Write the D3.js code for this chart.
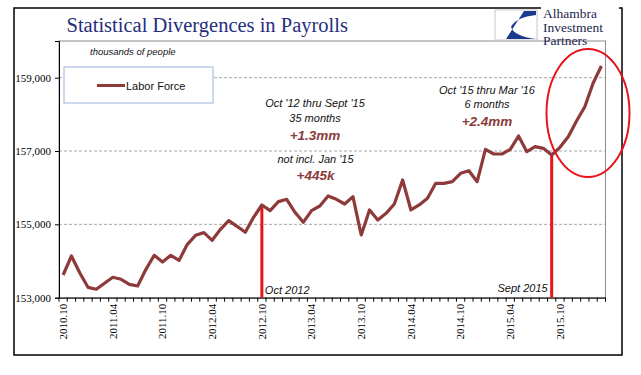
<!DOCTYPE html>
<html>
<head>
<meta charset="utf-8">
<script src="https://cdn.jsdelivr.net/npm/d3@7"></script>
<style>
  body { margin: 0; background: #fff; }
  svg { display: block; }
  .ann { font-family: "Liberation Sans", Arial, sans-serif; font-style: italic; fill: #111; }
  .big { font-family: "Liberation Sans", Arial, sans-serif; font-style: italic; font-weight: bold; fill: #8b3a3a; }
</style>
</head>
<body>
<div id="chart"></div>
<script>
// monthly labor force, thousands, Oct 2010 - Mar 2016
var startYear = 2010, startMonth = 10;
var laborForce = [
    153619, 154137, 153682, 153283, 153229, 153392, 153556, 153502, 153365, 153319,
    153774, 154156, 153974, 154156, 154019, 154456, 154701, 154774, 154565, 154865,
    155100, 154947, 154783, 155192, 155528, 155374, 155619, 155683, 155329, 155056,
    155374, 155501, 155774, 155683, 155555, 155755, 154710, 155392, 155119, 155301,
    155555, 156210, 155392, 155528, 155710, 156119, 156119, 156164, 156392, 156464,
    156164, 157047, 156919, 156919, 157047, 157410, 156982, 157119, 157073, 156892,
    157101, 157391, 157819, 158208, 158847, 159319
];
var yTicks = [153000, 155000, 157000, 159000];
var markers = [
    { month: "2012.10", label: "Oct 2012" },
    { month: "2015.09", label: "Sept 2015" }
];

var months = [];
for (var i = 0; i < laborForce.length; i++) {
    var m = startMonth - 1 + i;
    var yy = startYear + Math.floor(m / 12), mm = (m % 12) + 1;
    months.push(yy + "." + (mm < 10 ? "0" + mm : mm));
}

var width = 641, height = 375;
var plotL = 59, plotR = 605.5, plotT = 41, plotB = 297.7;

var svg = d3.select("#chart").append("svg")
    .attr("width", width)
    .attr("height", height);

var x = d3.scaleBand().domain(months).range([plotL, plotR]);
var y = d3.scaleLinear().domain([153000, 160000]).range([plotB, plotT]);

// outer frame
svg.append("rect")
    .attr("x", 14).attr("y", 8)
    .attr("width", 608).attr("height", 347)
    .attr("fill", "#fff").attr("stroke", "#000").attr("stroke-width", 1.5);

// plot frame
svg.append("rect")
    .attr("x", plotL).attr("y", plotT)
    .attr("width", plotR - plotL).attr("height", plotB - plotT)
    .attr("fill", "none").attr("stroke", "#8c8c8c").attr("stroke-width", 1);

// gridlines
svg.selectAll(".grid")
    .data(yTicks.slice(1))
    .enter().append("line")
    .attr("x1", plotL).attr("x2", plotR)
    .attr("y1", function (d) { return y(d); })
    .attr("y2", function (d) { return y(d); })
    .attr("stroke", "#a6a6a6")
    .attr("stroke-dasharray", "3,2");

// y axis
var yAxis = svg.append("g")
    .attr("transform", "translate(" + plotL + ",0)")
    .call(d3.axisLeft(y).tickValues(yTicks).tickFormat(d3.format(",")).tickSize(4).tickPadding(4));
yAxis.select(".domain").attr("stroke", "#000");
yAxis.selectAll("text")
    .style("font-family", "'Liberation Serif', serif")
    .style("font-size", "11px")
    .attr("fill", "#000");

// x axis
var xAxis = svg.append("g")
    .attr("transform", "translate(0," + plotB + ")")
    .call(d3.axisBottom(x)
        .tickValues(months.filter(function (d, i) { return i % 6 == 0; }))
        .tickSize(0).tickPadding(0));
xAxis.select(".domain").attr("stroke", "#000");
xAxis.selectAll("text")
    .attr("transform", "rotate(-90)")
    .attr("x", -6).attr("y", 0)
    .attr("dy", "0.35em")
    .style("text-anchor", "end")
    .style("font-family", "'Liberation Serif', serif")
    .style("font-size", "11px")
    .attr("fill", "#000");

// minor ticks at category edges
var edges = months.map(function (d) { return x(d); }).concat([x(months[months.length - 1]) + x.step()]);
svg.selectAll(".mtick")
    .data(edges)
    .enter().append("line")
    .attr("x1", function (d) { return d; }).attr("x2", function (d) { return d; })
    .attr("y1", plotB).attr("y2", plotB + 4)
    .attr("stroke", "#000");

// marker lines
markers.forEach(function (mk) {
    var idx = months.indexOf(mk.month);
    var cx = x(mk.month) + x.bandwidth() / 2;
    svg.append("line")
        .attr("x1", cx).attr("x2", cx)
        .attr("y1", y(laborForce[idx])).attr("y2", plotB)
        .attr("stroke", "#e8141c").attr("stroke-width", 3);
});

// data line
var line = d3.line()
    .x(function (d, i) { return x(months[i]) + x.bandwidth() / 2; })
    .y(function (d) { return y(d); });

svg.append("path")
    .datum(laborForce)
    .attr("d", line)
    .attr("fill", "none")
    .attr("stroke", "#8e3a3a")
    .attr("stroke-width", 3.2)
    .attr("stroke-linejoin", "round");

// marker labels
var m1 = x("2012.10") + x.bandwidth() / 2, m2 = x("2015.09") + x.bandwidth() / 2;
svg.append("text").attr("class", "ann").attr("x", m1 + 3).attr("y", 293.5)
    .style("font-size", "11px").text(markers[0].label);
svg.append("text").attr("class", "ann").attr("x", m2 - 4).attr("y", 291.5)
    .style("font-size", "11px").attr("text-anchor", "end").text(markers[1].label);

// annotations
function ann(cx, cy, txt, cls, size) {
    svg.append("text").attr("class", cls)
        .attr("x", cx).attr("y", cy)
        .attr("text-anchor", "middle")
        .style("font-size", size + "px")
        .text(txt);
}
ann(315, 106.5, "Oct '12 thru Sept '15", "ann", 11);
ann(315, 122, "35 months", "ann", 11);
ann(315, 139.5, "+1.3mm", "big", 13.5);
ann(315.5, 162.5, "not incl. Jan '15", "ann", 11);
ann(315.5, 180, "+445k", "big", 13.5);
ann(487, 93.5, "Oct '15 thru Mar '16", "ann", 11);
ann(487, 108, "6 months", "ann", 11);
ann(487, 125.5, "+2.4mm", "big", 13.5);

// red ellipse
svg.append("ellipse")
    .attr("cx", 588).attr("cy", 113)
    .attr("rx", 41.5).attr("ry", 64)
    .attr("fill", "none").attr("stroke", "#e8141c").attr("stroke-width", 2);

// units label
svg.append("text").attr("class", "ann")
    .attr("x", 90).attr("y", 54.5)
    .style("font-size", "9.5px")
    .text("thousands of people");

// legend
svg.append("rect")
    .attr("x", 64).attr("y", 67)
    .attr("width", 149).attr("height", 36)
    .attr("fill", "#fff").attr("stroke", "#95b3d7");
svg.append("line")
    .attr("x1", 97).attr("x2", 125)
    .attr("y1", 85.5).attr("y2", 85.5)
    .attr("stroke", "#8e3a3a").attr("stroke-width", 3);
svg.append("text")
    .attr("x", 126).attr("y", 89.5)
    .style("font-family", "'Liberation Sans', Arial, sans-serif")
    .style("font-size", "11px")
    .attr("fill", "#111")
    .text("Labor Force");

// title
svg.append("text")
    .attr("x", 66.5).attr("y", 31.5)
    .style("font-family", "'Liberation Serif', 'DejaVu Serif', serif")
    .style("font-size", "20.5px")
    .attr("fill", "#252e7c")
    .text("Statistical Divergences in Payrolls");

// logo
var logo = svg.append("g");
logo.append("rect")
    .attr("x", 541).attr("y", 6)
    .attr("width", 78).attr("height", 33)
    .attr("fill", "#fff");
logo.append("rect")
    .attr("x", 495).attr("y", 10)
    .attr("width", 42).attr("height", 30)
    .attr("fill", "#fff").attr("stroke", "#c8c8c8");
logo.append("path")
    .attr("d", "M524,11 L536,11 L536,15 Q516,17 511,27 Q514,36 536,39 L506,39 Z")
    .attr("fill", "#1b3a8f");
["Alhambra", "Investment", "Partners"].forEach(function (t, i) {
    logo.append("text")
        .attr("x", 543).attr("y", 18 + i * 13.5)
        .style("font-family", "'Liberation Serif', serif")
        .style("font-size", "13.5px")
        .attr("fill", "#1c2650")
        .text(t);
});
</script>
</body>
</html>
